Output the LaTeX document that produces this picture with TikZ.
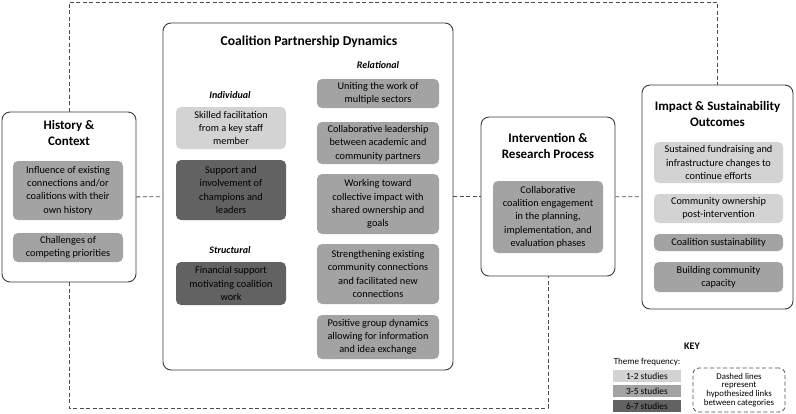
\documentclass[tikz,border=0pt]{standalone}
\usepackage{fontspec}
\setmainfont{Carlito}
\usepackage{tikz}
\usetikzlibrary{shapes,arrows,positioning}
\definecolor{lowfreq}{HTML}{D3D3D3}
\definecolor{midfreq}{HTML}{A3A3A3}
\definecolor{highfreq}{HTML}{626262}
\definecolor{edgegray}{HTML}{3A3A3A}
\tikzstyle{category} = [draw=edgegray, line width=0.9pt, rounded corners=8pt, rectangle, inner sep=0pt]
\tikzstyle{theme} = [rectangle, rounded corners=5pt, inner sep=0pt, align=center, text=black, font=\fontsize{10.3}{13.3}\selectfont]
\tikzstyle{hyplink} = [draw=black!70, line width=0.8pt, dash pattern=on 4pt off 2.5pt]

\begin{document}
\begin{tikzpicture}[x=1pt, y=-1pt]
    % Define styles for blocks and lines
    \tikzstyle{title} = [align=center, font=\fontsize{13}{16.5}\selectfont\bfseries]
    \tikzstyle{sublabel} = [font=\fontsize{10}{12}\selectfont\bfseries\itshape]
    \tikzstyle{light} = [theme, fill=lowfreq]
    \tikzstyle{medium} = [theme, fill=midfreq]
    \tikzstyle{dark} = [theme, fill=highfreq]
    \tikzstyle{keybox} = [rectangle, inner sep=0pt, minimum width=68pt, minimum height=12pt, font=\fontsize{9.4}{9}\selectfont]
    \useasboundingbox (0,0) rectangle (796,413);

    % Place nodes
    \node [category, minimum width=134pt, minimum height=170pt] (history) at (69,197) {};
    \node [title] (historytitle) at (69,133) {History \&\\Context};
    \node [medium, minimum width=110pt, minimum height=59pt] (influence) at (68,190.5) {Influence of existing\\connections and/or\\coalitions with their\\own history};
    \node [medium, minimum width=110pt, minimum height=29pt] (priorities) at (68,247.5) {Challenges of\\competing priorities};

    \node [category, minimum width=290pt, minimum height=347pt] (coalition) at (308,196.5) {};
    \node [title, font=\fontsize{13.6}{16.5}\selectfont\bfseries] (coalitiontitle) at (309,42) {Coalition Partnership Dynamics};
    \node [sublabel] (individual) at (230,95) {Individual};
    \node [sublabel] (relational) at (378,65) {Relational};
    \node [sublabel] (structural) at (230,250) {Structural};
    \node [light, minimum width=110pt, minimum height=42pt] (facilitation) at (231,128) {Skilled facilitation\\from a key staff\\member};
    \node [dark, minimum width=110pt, minimum height=60pt] (champions) at (231,190) {Support and\\involvement of\\champions and\\leaders};
    \node [dark, minimum width=110pt, minimum height=43pt] (financial) at (231,283.5) {Financial support\\motivating coalition\\work};
    \node [medium, minimum width=122pt, minimum height=29pt] (sectors) at (378,93.5) {Uniting the work of\\multiple sectors};
    \node [medium, minimum width=122pt, minimum height=42pt] (leadership) at (378,143) {Collaborative leadership\\between academic and\\community partners};
    \node [medium, minimum width=122pt, minimum height=60pt] (collective) at (378,204) {Working toward\\collective impact with\\shared ownership and\\goals};
    \node [medium, minimum width=122pt, minimum height=60pt] (strengthen) at (378,274) {Strengthening existing\\community connections\\and facilitated new\\connections};
    \node [medium, minimum width=122pt, minimum height=44pt] (dynamics) at (378,337) {Positive group dynamics\\allowing for information\\and idea exchange};

    \node [category, minimum width=134pt, minimum height=159pt] (intervention) at (548,196.5) {};
    \node [title] (interventiontitle) at (548,146) {Intervention \&\\Research Process};
    \node [medium, minimum width=110pt, minimum height=72pt] (engagement) at (548,217) {Collaborative\\coalition engagement\\in the planning,\\implementation, and\\evaluation phases};

    \node [category, minimum width=151pt, minimum height=224pt] (impact) at (717.5,197) {};
    \node [title] (impacttitle) at (717.5,114) {Impact \& Sustainability\\Outcomes};
    \node [light, minimum width=129pt, minimum height=41pt] (fundraising) at (718.5,162.5) {Sustained fundraising and\\infrastructure changes to\\continue efforts};
    \node [light, minimum width=129pt, minimum height=29pt] (ownership) at (718.5,208.5) {Community ownership\\post-intervention};
    \node [medium, minimum width=129pt, minimum height=17pt] (sustain) at (718.5,242.5) {Coalition sustainability};
    \node [medium, minimum width=129pt, minimum height=30pt] (capacity) at (718.5,277) {Building community\\capacity};

    % Key
    \node [font=\fontsize{10}{11}\selectfont\bfseries] (key) at (692,346) {KEY};
    \node [font=\fontsize{9}{9}\selectfont] (frequency) at (647,362) {Theme frequency:};
    \node [keybox, fill=lowfreq] (keylow) at (647,376) {1-2 studies};
    \node [keybox, fill=midfreq, below=3pt of keylow] (keymid) {3-5 studies};
    \node [keybox, fill=highfreq, below=2pt of keymid] (keyhigh) {6-7 studies};
    \node [hyplink, rounded corners=6pt, minimum width=92pt, minimum height=44pt, inner sep=0pt, align=center, font=\fontsize{8.8}{8.7}\selectfont] (keydash) at (739,390) {Dashed lines\\represent\\hypothesized links\\between categories};

    \coordinate (toprail) at (400,2);
    \coordinate (bottomrail) at (300,408);

    % Draw edges
    \path [hyplink] (history) -- (coalition);
    \path [hyplink] (coalition) -- (intervention);
    \path [hyplink] (intervention) -- (impact);
    \path [hyplink] (history.north) |- (toprail) -| (impact.north);
    \path [hyplink] (history.south) |- (bottomrail) -| (intervention.south);
\end{tikzpicture}
\end{document}
